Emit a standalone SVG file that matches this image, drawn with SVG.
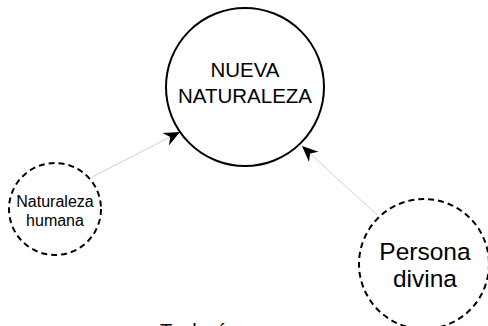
<svg xmlns="http://www.w3.org/2000/svg" width="488" height="326" viewBox="0 0 488 326">
<style>
.n{fill:#fff;stroke:#000;stroke-width:2}
.d{stroke-dasharray:6 4}
.t{font-family:"Liberation Sans",Arial,sans-serif;fill:#000;text-anchor:middle}
.c{stroke:#d0d0d0;stroke-width:1;fill:none;marker-end:url(#ah)}
</style>
<defs>
<marker id="ah" viewBox="-16 -8 17 16" refX="0" refY="0" markerWidth="17" markerHeight="16" markerUnits="userSpaceOnUse" orient="auto">
<path d="M0,0 L-16,-7 L-11,0 L-16,7 Z" fill="#000"/>
</marker>
</defs>
<rect width="488" height="326" fill="#fff"/>
<g id="connectors">
<line class="c" x1="92" y1="177" x2="180" y2="132"/>
<line class="c" x1="377" y1="215" x2="302" y2="146"/>
</g>
<g id="nueva-naturaleza">
<circle class="n" cx="245" cy="87" r="79"/>
<text class="t" x="245" y="77" font-size="20.5">NUEVA</text>
<text class="t" x="245" y="103" font-size="20.5">NATURALEZA</text>
</g>
<g id="naturaleza-humana">
<circle class="n d" cx="55" cy="209" r="46"/>
<text class="t" x="55" y="207" font-size="16">Naturaleza</text>
<text class="t" x="55" y="226" font-size="16">humana</text>
</g>
<g id="persona-divina">
<circle class="n d" cx="424" cy="264" r="65"/>
<text class="t" x="425" y="260" font-size="24.5">Persona</text>
<text class="t" x="425" y="287" font-size="24.5">divina</text>
</g>
<text x="160" y="338" font-size="20" font-family="Liberation Sans,Arial,sans-serif" fill="#000">Teología</text>
</svg>
